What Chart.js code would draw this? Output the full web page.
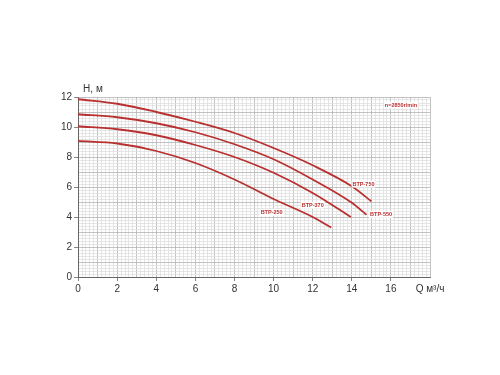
<!DOCTYPE html>
<html>
<head>
<meta charset="utf-8">
<script src="https://cdn.jsdelivr.net/npm/chart.js@4"></script>
<style>
  html, body { margin: 0; padding: 0; background: #fff; }
  #wrap { width: 500px; height: 375px; }
</style>
</head>
<body>
<div id="wrap"><canvas id="pump-chart" width="500" height="375"></canvas></div>
<script>
// Q, м³/ч
const flow750 = [0, 2, 4, 6, 8, 10, 12, 14, 15];
const head750 = [11.85, 11.55, 11.0, 10.35, 9.6, 8.6, 7.45, 6.05, 5.05];

const flow550 = [0, 2, 4, 6, 8, 10, 12, 14, 14.75];
const head550 = [10.85, 10.65, 10.25, 9.65, 8.85, 7.85, 6.5, 4.95, 4.15];

const flow370 = [0, 2, 4, 6, 8, 10, 12, 13.95];
const head370 = [10.05, 9.85, 9.45, 8.8, 8.0, 6.95, 5.6, 4.0];

const flow250 = [0, 2, 4, 6, 8, 10, 12, 12.95];
const head250 = [9.07, 8.9, 8.4, 7.6, 6.5, 5.2, 4.0, 3.3];

const xTickLabels = [0, 2, 4, 6, 8, 10, 12, 14, 16];
const yTickLabels = [0, 2, 4, 6, 8, 10, 12];

// подписи кривых (Q, H)
const curveLabels = [
    { text: 'BTP-750', q: 14.6, h: 6.2 },
    { text: 'BTP-550', q: 15.5, h: 4.18 },
    { text: 'BTP-370', q: 12.0, h: 4.8 },
    { text: 'BTP-250', q: 9.9, h: 4.3 }
];

const lineColor = '#b8302f';

function toPoints(xs, ys) {
    return xs.map((x, i) => ({ x: x, y: ys[i] }));
}

function isWhole(v) {
    return Math.abs(v - Math.round(v)) < 0.001;
}

function inList(v, list) {
    return list.some(t => Math.abs(t - v) < 0.001);
}

// подписи и текст на графике
const annotations = {
    id: 'annotations',
    afterDatasetsDraw(chart) {
        const ctx = chart.ctx;
        const xs = chart.scales.x;
        const ys = chart.scales.y;
        const area = chart.chartArea;
        ctx.save();
        ctx.font = 'bold 5.5px "Liberation Sans", Arial, sans-serif';
        ctx.textAlign = 'center';
        ctx.textBaseline = 'middle';
        curveLabels.forEach(l => {
            const px = xs.getPixelForValue(l.q);
            const py = ys.getPixelForValue(l.h);
            const w = ctx.measureText(l.text).width + 2;
            ctx.fillStyle = '#fff';
            ctx.fillRect(px - w / 2, py - 3.5, w, 7);
            ctx.fillStyle = lineColor;
            ctx.fillText(l.text, px, py);
        });
        const nText = 'n=2850r/min';
        const nx = area.right - 29;
        const ny = area.top + 8;
        const nw = ctx.measureText(nText).width + 2;
        ctx.fillStyle = '#fff';
        ctx.fillRect(nx - nw / 2, ny - 3.5, nw, 7);
        ctx.fillStyle = lineColor;
        ctx.fillText(nText, nx, ny);

        ctx.font = '10px "Liberation Sans", Arial, sans-serif';
        ctx.fillStyle = '#333';
        ctx.textAlign = 'left';
        ctx.textBaseline = 'bottom';
        ctx.fillText('H, м', area.left + 5, area.top - 3);
        ctx.restore();
    }
};

new Chart(document.getElementById('pump-chart'), {
    type: 'line',
    data: {
        datasets: [
            { label: 'BTP-750', data: toPoints(flow750, head750) },
            { label: 'BTP-550', data: toPoints(flow550, head550) },
            { label: 'BTP-370', data: toPoints(flow370, head370) },
            { label: 'BTP-250', data: toPoints(flow250, head250) }
        ].map(d => Object.assign(d, {
            borderColor: lineColor,
            borderWidth: 1.8,
            pointRadius: 0,
            tension: 0.4,
            cubicInterpolationMode: 'monotone',
            fill: false
        }))
    },
    plugins: [annotations],
    options: {
        responsive: false,
        animation: false,
        events: [],
        layout: {
            padding: { left: 59, right: 70, top: 97, bottom: 78 }
        },
        plugins: {
            legend: { display: false },
            tooltip: { enabled: false }
        },
        scales: {
            x: {
                type: 'linear',
                min: 0,
                max: 18,
                border: { color: '#666', width: 1 },
                grid: {
                    color: c => isWhole(c.tick.value) ? '#b4b4b4' : '#e0e0e0',
                    lineWidth: 0.8,
                    tickLength: 4,
                    tickColor: c => inList(c.tick.value, xTickLabels) ? '#666' : 'rgba(0,0,0,0)'
                },
                ticks: {
                    stepSize: 0.2,
                    autoSkip: false,
                    maxRotation: 0,
                    padding: 2,
                    color: '#333',
                    font: { size: 10, family: '"Liberation Sans", Arial, sans-serif' },
                    callback: v => {
                        if (Math.abs(v - 18) < 0.001) return 'Q м³/ч';
                        return inList(v, xTickLabels) ? String(Math.round(v)) : '';
                    }
                }
            },
            y: {
                type: 'linear',
                min: 0,
                max: 12,
                border: { color: '#666', width: 1 },
                grid: {
                    color: c => isWhole(c.tick.value) ? '#b4b4b4' : '#e0e0e0',
                    lineWidth: 0.8,
                    tickLength: 4,
                    tickColor: c => inList(c.tick.value, yTickLabels) ? '#666' : 'rgba(0,0,0,0)'
                },
                ticks: {
                    stepSize: 0.2,
                    autoSkip: false,
                    padding: 2,
                    color: '#333',
                    font: { size: 10, family: '"Liberation Sans", Arial, sans-serif' },
                    callback: v => inList(v, yTickLabels) ? String(Math.round(v)) : ''
                }
            }
        }
    }
});
</script>
</body>
</html>
